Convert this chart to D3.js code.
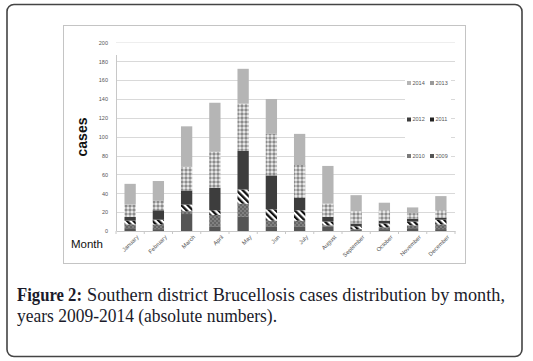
<!DOCTYPE html>
<html><head><meta charset="utf-8">
<script src="https://cdn.jsdelivr.net/npm/d3@7"></script>
<style>html,body{margin:0;padding:0;background:#fff;}svg{display:block;}</style>
</head><body>
<svg id="c" width="533" height="361"></svg>
<script>
const months = ["January","February","March","April","May","Jun","July","August","September","October","November","December"];
const years = ["2009","2010","2011","2012","2013","2014"];
const y2009 = [3, 2, 18, 5, 15, 5, 5, 5, 1, 2, 3, 2];
const y2010 = [4, 5, 3, 12, 14, 6, 6, 1, 1, 2, 3, 5];
const y2011 = [4, 5, 7, 5, 15, 12, 11, 4, 3, 4, 4, 5];
const y2012 = [4, 10, 15, 24, 41, 36, 13, 5, 3, 3, 3, 2];
const y2013 = [13, 10, 25, 38, 50, 44, 35, 14, 13, 11, 6, 8];
const y2014 = [22, 21, 43, 52, 37, 37, 33, 40, 17, 8, 6, 15];
const yTicks = [0,20,40,60,80,100,120,140,160,180,200];
const legendRows = [["2014","2013"],["2012","2011"],["2010","2009"]];
const captionBold = "Figure 2:";
const captionLine1 = "Southern district Brucellosis cases distribution by month,";
const captionLine2 = "years 2009-2014 (absolute numbers).";

const seriesVals = {"2009":y2009,"2010":y2010,"2011":y2011,"2012":y2012,"2013":y2013,"2014":y2014};
const table = months.map((m,i)=>{const o={month:m}; years.forEach(y=>o[y]=seriesVals[y][i]); return o;});

const svg = d3.select("#c");
const defs = svg.append("defs");
// patterns
const p13 = defs.append("pattern").attr("id","p2013").attr("patternUnits","userSpaceOnUse").attr("width",4).attr("height",4);
p13.append("rect").attr("width",4).attr("height",4).attr("fill","#e6e6e6");
p13.append("path").attr("d","M0,2 L2,0 L4,2 L2,4 Z").attr("fill","#8c8c8c");
const p11 = defs.append("pattern").attr("id","p2011").attr("patternUnits","userSpaceOnUse").attr("width",4.5).attr("height",4.5).attr("patternTransform","rotate(-45)");
p11.append("rect").attr("width",4.5).attr("height",4.5).attr("fill","#fff");
p11.append("rect").attr("width",2.3).attr("height",4.5).attr("fill","#111");
const p10 = defs.append("pattern").attr("id","p2010").attr("patternUnits","userSpaceOnUse").attr("width",4).attr("height",4);
p10.append("rect").attr("width",4).attr("height",4).attr("fill","#808080");
p10.append("rect").attr("width",2).attr("height",2).attr("fill","#666");
p10.append("rect").attr("x",2).attr("y",2).attr("width",2).attr("height",2).attr("fill","#666");
const fills = {"2009":"#555555","2010":"url(#p2010)","2011":"url(#p2011)","2012":"#3d3d3d","2013":"url(#p2013)","2014":"#b5b5b5"};
const swatch = {"2009":"#555555","2010":"#7a7a7a","2011":"#222","2012":"#3d3d3d","2013":"#9a9a9a","2014":"#b5b5b5"};

// outer frame
svg.append("rect").attr("x",7).attr("y",4.5).attr("width",515).attr("height",352).attr("rx",7)
  .attr("fill","#fff").attr("stroke","#444").attr("stroke-width",1.6);
// inner chart frame
svg.append("rect").attr("x",63.5).attr("y",25.5).attr("width",402).attr("height",238)
  .attr("fill","#fff").attr("stroke","#c4c4c4").attr("stroke-width",1);

const x = d3.scaleBand().domain(months).range([116,455]).paddingInner(0.6).paddingOuter(0.3);
const y = d3.scaleLinear().domain([0,200]).range([231,42.4]);

// gridlines
svg.append("g").selectAll("line").data(yTicks.filter(t=>t>0)).join("line")
  .attr("x1",116).attr("x2",455).attr("y1",d=>Math.round(y(d))+0.5).attr("y2",d=>Math.round(y(d))+0.5)
  .attr("stroke",d=>d===200?"#eeeeee":"#d9d9d9").attr("stroke-width",1);

// y axis
const yAxis = d3.axisLeft(y).tickValues(yTicks).tickSize(0).tickPadding(8);
const gy = svg.append("g").attr("transform","translate(116,0)").call(yAxis);
gy.select(".domain").remove();
gy.selectAll("text").attr("font-family","Liberation Sans, Arial, sans-serif").attr("font-size",5.5).attr("fill","#555");
svg.append("line").attr("x1",116.5).attr("x2",116.5).attr("y1",55).attr("y2",231).attr("stroke","#c8c8c8");

// stacked bars
const stack = d3.stack().keys(years)(table);
svg.append("g").selectAll("g").data(stack).join("g")
  .attr("fill",d=>fills[d.key])
  .selectAll("rect").data(d=>d).join("rect")
  .attr("x",d=>x(d.data.month)).attr("width",x.bandwidth())
  .attr("y",d=>y(d[1])).attr("height",d=>y(d[0])-y(d[1]));

// x axis
const xAxis = d3.axisBottom(x).tickSize(0).tickPadding(4);
const gx = svg.append("g").attr("transform","translate(0,231)").call(xAxis);
gx.select(".domain").attr("stroke","#c8c8c8");
gx.selectAll("text").attr("font-family","Liberation Sans, Arial, sans-serif").attr("font-size",5.8).attr("fill","#555")
  .attr("text-anchor","end").attr("transform","translate(4,0) rotate(-45)").attr("dy","0.35em").attr("dx","-0.2em").attr("y",6).attr("x",0);
// band separators ticks
svg.append("g").selectAll("line").data(d3.range(months.length+1)).join("line")
  .attr("x1",i=>116+i*x.step()).attr("x2",i=>116+i*x.step()).attr("y1",231).attr("y2",234)
  .attr("stroke","#c8c8c8");

// legend
const lg = svg.append("g");
lg.append("rect").attr("x",405).attr("y",70).attr("width",46).attr("height",96).attr("fill","#fff");
legendRows.forEach((row,ri)=>{
  const ly = [83,119.5,156][ri];
  row.forEach((k,ci)=>{
    const lx = [407,430][ci];
    lg.append("rect").attr("x",lx).attr("y",ly-2).attr("width",4).attr("height",4).attr("fill",swatch[k]);
    lg.append("text").attr("x",lx+5.5).attr("y",ly).attr("dy","0.35em")
      .attr("font-family","Liberation Sans, Arial, sans-serif").attr("font-size",5.5).attr("fill","#555").text(k);
  });
});

// axis titles
svg.append("text").attr("transform","translate(87,137) rotate(-90)").attr("text-anchor","middle")
  .attr("font-family","Liberation Sans, Arial, sans-serif").attr("font-weight","bold").attr("font-size",14).attr("fill","#111").text("cases");
svg.append("text").attr("x",71).attr("y",248)
  .attr("font-family","Liberation Sans, Arial, sans-serif").attr("font-size",11.5).attr("fill","#111").text("Month");

// caption
const serif = "Liberation Serif, Times New Roman, serif";
svg.append("text").attr("x",17).attr("y",301).attr("font-family",serif).attr("font-weight","bold")
  .attr("font-size",18).attr("fill","#1b1b2a").attr("textLength",65).attr("lengthAdjust","spacingAndGlyphs").text(captionBold);
svg.append("text").attr("x",87).attr("y",301).attr("font-family",serif)
  .attr("font-size",18).attr("fill","#1b1b2a").attr("textLength",418).attr("lengthAdjust","spacingAndGlyphs").text(captionLine1);
svg.append("text").attr("x",17).attr("y",322).attr("font-family",serif)
  .attr("font-size",18).attr("fill","#1b1b2a").attr("textLength",260).attr("lengthAdjust","spacingAndGlyphs").text(captionLine2);
</script>
</body></html>
